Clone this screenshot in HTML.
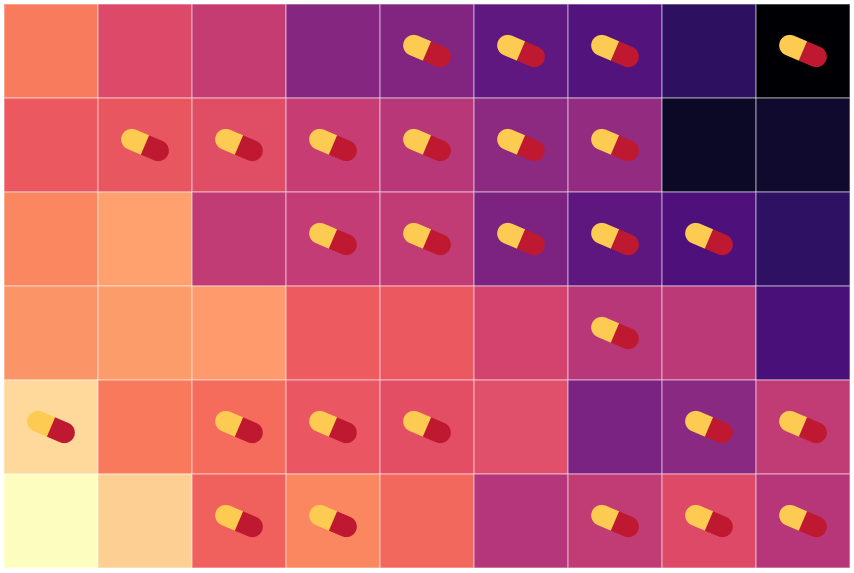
<!DOCTYPE html>
<html><head><meta charset="utf-8"><style>
html,body{margin:0;padding:0;background:#fff;width:854px;height:573px;overflow:hidden}
svg{display:block}
</style></head><body>
<svg width="854" height="573" viewBox="0 0 854 573" xmlns="http://www.w3.org/2000/svg">
<defs>
<clipPath id="cp"><rect x="-25" y="-10.5" width="50" height="21" rx="10.5"/></clipPath>
<g id="pill"><g transform="rotate(23)"><g clip-path="url(#cp)">
<rect x="-26" y="-12" width="26" height="24" fill="#fecb52"/>
<rect x="0" y="-12" width="26" height="24" fill="#be1931"/>
</g></g></g>
</defs>
<g stroke="#ffffff" stroke-opacity="0.6" stroke-width="1">
<rect x="4" y="4" width="94" height="94" fill="#f97b5d"/>
<rect x="98" y="4" width="94" height="94" fill="#dd4968"/>
<rect x="192" y="4" width="94" height="94" fill="#c53c73"/>
<rect x="286" y="4" width="94" height="94" fill="#852780"/>
<rect x="380" y="4" width="94" height="94" fill="#812581"/>
<rect x="474" y="4" width="94" height="94" fill="#5f187f"/>
<rect x="568" y="4" width="94" height="94" fill="#52137c"/>
<rect x="662" y="4" width="94" height="94" fill="#2d1160"/>
<rect x="756" y="4" width="94" height="94" fill="#000004"/>

<rect x="4" y="98" width="94" height="94" fill="#ec5860"/>
<rect x="98" y="98" width="94" height="94" fill="#e8575f"/>
<rect x="192" y="98" width="94" height="94" fill="#e04e65"/>
<rect x="286" y="98" width="94" height="94" fill="#c73d73"/>
<rect x="380" y="98" width="94" height="94" fill="#b73779"/>
<rect x="474" y="98" width="94" height="94" fill="#8c2981"/>
<rect x="568" y="98" width="94" height="94" fill="#932b80"/>
<rect x="662" y="98" width="94" height="94" fill="#0c0926"/>
<rect x="756" y="98" width="94" height="94" fill="#100b2e"/>

<rect x="4" y="192" width="94" height="94" fill="#fb8761"/>
<rect x="98" y="192" width="94" height="94" fill="#fea16e"/>
<rect x="192" y="192" width="94" height="94" fill="#c13b75"/>
<rect x="286" y="192" width="94" height="94" fill="#c43c75"/>
<rect x="380" y="192" width="94" height="94" fill="#c13b75"/>
<rect x="474" y="192" width="94" height="94" fill="#7c2382"/>
<rect x="568" y="192" width="94" height="94" fill="#5d177f"/>
<rect x="662" y="192" width="94" height="94" fill="#4e117b"/>
<rect x="756" y="192" width="94" height="94" fill="#2f1163"/>

<rect x="4" y="286" width="94" height="94" fill="#fb9466"/>
<rect x="98" y="286" width="94" height="94" fill="#fd9c6b"/>
<rect x="192" y="286" width="94" height="94" fill="#fe9a6b"/>
<rect x="286" y="286" width="94" height="94" fill="#ed5a5f"/>
<rect x="380" y="286" width="94" height="94" fill="#ec5860"/>
<rect x="474" y="286" width="94" height="94" fill="#d3436e"/>
<rect x="568" y="286" width="94" height="94" fill="#b73779"/>
<rect x="662" y="286" width="94" height="94" fill="#bc3978"/>
<rect x="756" y="286" width="94" height="94" fill="#4a1079"/>

<rect x="4" y="380" width="94" height="94" fill="#fed99b"/>
<rect x="98" y="380" width="94" height="94" fill="#f9795d"/>
<rect x="192" y="380" width="94" height="94" fill="#f56b5c"/>
<rect x="286" y="380" width="94" height="94" fill="#ea5661"/>
<rect x="380" y="380" width="94" height="94" fill="#e34e65"/>
<rect x="474" y="380" width="94" height="94" fill="#e1506a"/>
<rect x="568" y="380" width="94" height="94" fill="#7a2382"/>
<rect x="662" y="380" width="94" height="94" fill="#8a2981"/>
<rect x="756" y="380" width="94" height="94" fill="#c13b75"/>

<rect x="4" y="474" width="94" height="94" fill="#fcfdbf"/>
<rect x="98" y="474" width="94" height="94" fill="#fecf92"/>
<rect x="192" y="474" width="94" height="94" fill="#f0605d"/>
<rect x="286" y="474" width="94" height="94" fill="#fb8761"/>
<rect x="380" y="474" width="94" height="94" fill="#f3685c"/>
<rect x="474" y="474" width="94" height="94" fill="#b5367a"/>
<rect x="568" y="474" width="94" height="94" fill="#c13b75"/>
<rect x="662" y="474" width="94" height="94" fill="#df4968"/>
<rect x="756" y="474" width="94" height="94" fill="#b63679"/>
</g>
<use href="#pill" transform="translate(427,51)"/>
<use href="#pill" transform="translate(521,51)"/>
<use href="#pill" transform="translate(615,51)"/>
<use href="#pill" transform="translate(803,51)"/>

<use href="#pill" transform="translate(145,145)"/>
<use href="#pill" transform="translate(239,145)"/>
<use href="#pill" transform="translate(333,145)"/>
<use href="#pill" transform="translate(427,145)"/>
<use href="#pill" transform="translate(521,145)"/>
<use href="#pill" transform="translate(615,145)"/>

<use href="#pill" transform="translate(333,239)"/>
<use href="#pill" transform="translate(427,239)"/>
<use href="#pill" transform="translate(521,239)"/>
<use href="#pill" transform="translate(615,239)"/>
<use href="#pill" transform="translate(709,239)"/>

<use href="#pill" transform="translate(615,333)"/>

<use href="#pill" transform="translate(51,427)"/>
<use href="#pill" transform="translate(239,427)"/>
<use href="#pill" transform="translate(333,427)"/>
<use href="#pill" transform="translate(427,427)"/>
<use href="#pill" transform="translate(709,427)"/>
<use href="#pill" transform="translate(803,427)"/>

<use href="#pill" transform="translate(239,521)"/>
<use href="#pill" transform="translate(333,521)"/>
<use href="#pill" transform="translate(615,521)"/>
<use href="#pill" transform="translate(709,521)"/>
<use href="#pill" transform="translate(803,521)"/>
</svg>
</body></html>
